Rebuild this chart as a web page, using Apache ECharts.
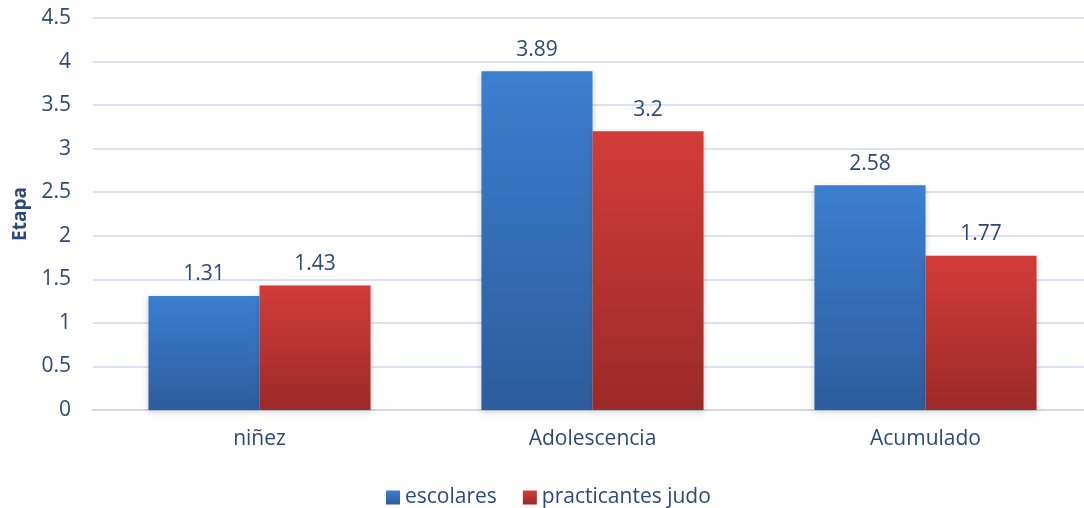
<!DOCTYPE html>
<html>
<head>
<meta charset="utf-8">
<script src="https://cdn.jsdelivr.net/npm/echarts@6/dist/echarts.min.js"></script>
<style>
  html, body { margin: 0; padding: 0; background: #fff; overflow: hidden; }
  /* the plot area runs a few pixels past the right edge of the page */
  #chart { width: 1092px; height: 508px; }
</style>
</head>
<body>
<div id="chart"></div>
<script>
// Categories and series values
const categories = ['niñez', 'Adolescencia', 'Acumulado'];
const escolares = [1.31, 3.89, 2.58];
const practicantesJudo = [1.43, 3.2, 1.77];
const seriesNames = ['escolares', 'practicantes judo'];
const yTicks = { min: 0, max: 4.5, interval: 0.5 };

const textColor = '#2b4a7b';
const font = '"Open Sans", "Noto Sans", sans-serif';
const fontSize = 21;

function grad(top, bottom) {
  return new echarts.graphic.LinearGradient(0, 0, 0, 1, [
    { offset: 0, color: top },
    { offset: 1, color: bottom }
  ]);
}

const chart = echarts.init(document.getElementById('chart'), null, { renderer: 'canvas' });

const labelStyle = {
  show: true,
  position: 'top',
  distance: 11,
  color: textColor,
  fontFamily: font,
  fontSize: fontSize
};

chart.setOption({
  animation: false,
  textStyle: { fontFamily: font },
  grid: { left: 93, right: 0, top: 18, bottom: 98, containLabel: false },
  legend: {
    data: seriesNames,
    bottom: -5,
    left: 381,
    itemWidth: 14,
    itemHeight: 14,
    itemGap: 26,
    icon: 'rect',
    textStyle: { color: textColor, fontSize: fontSize, fontFamily: font }
  },
  xAxis: {
    type: 'category',
    data: categories,
    axisLine: { show: true, lineStyle: { color: '#cfd9ea', width: 2 } },
    axisTick: { show: false },
    axisLabel: { color: textColor, fontSize: fontSize, fontFamily: font, margin: 19 }
  },
  yAxis: {
    type: 'value',
    min: yTicks.min,
    max: yTicks.max,
    interval: yTicks.interval,
    name: 'Etapa',
    nameLocation: 'middle',
    nameRotate: 90,
    nameGap: 63,
    nameTextStyle: { color: textColor, fontWeight: 'bold', fontSize: 19, fontFamily: font },
    axisLine: { show: false },
    axisTick: { show: false },
    axisLabel: { color: textColor, fontSize: fontSize, fontFamily: font, margin: 22 },
    splitLine: { lineStyle: { color: '#d9e3f3', width: 2 } }
  },
  series: [
    {
      name: seriesNames[0],
      type: 'bar',
      data: escolares,
      barGap: '0%',
      barCategoryGap: '33.3%',
      itemStyle: {
        color: grad('#3c7ed0', '#2c5d9c'),
        shadowColor: 'rgba(0,0,0,0.18)',
        shadowBlur: 6,
        shadowOffsetY: 2
      },
      label: labelStyle
    },
    {
      name: seriesNames[1],
      type: 'bar',
      data: practicantesJudo,
      itemStyle: {
        color: grad('#d23c39', '#9b2a28'),
        shadowColor: 'rgba(0,0,0,0.18)',
        shadowBlur: 6,
        shadowOffsetY: 2
      },
      label: labelStyle
    }
  ]
});
</script>
</body>
</html>
